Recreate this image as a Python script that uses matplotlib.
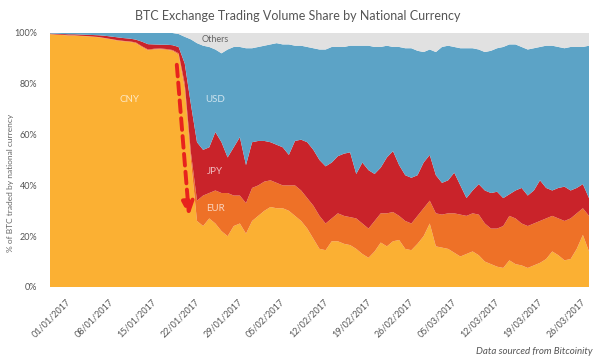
import numpy as np
import pandas as pd
import matplotlib
matplotlib.use("Agg")
import matplotlib.pyplot as plt
import matplotlib.transforms as mtransforms

plt.rcParams['font.family'] = ['Lato', 'DejaVu Sans']

# daily share (%) by currency, 01/01/2017 - 30/03/2017
dates = pd.date_range('2017-01-01', '2017-03-30', freq='D')

cny = [99.5, 99.3, 99.2, 99.0, 99.0, 98.8, 98.7, 98.5, 98.3, 97.9,
       97.5, 97.0, 96.7, 96.5, 96.0, 94.5, 93.2, 93.5, 93.6, 93.4,
       93.0, 91.5, 78.0, 50.0, 26, 24, 27, 25, 22, 20,
       24, 25, 21, 26, 28, 30, 31.5, 31, 31, 30,
       28, 26, 23, 19, 15, 14.5, 18, 18, 17, 16.5,
       15, 13, 11.5, 14, 17.5, 16, 18, 18.5, 15, 14.5,
       17, 20, 25, 16, 15.5, 15, 13.5, 12, 13, 14,
       12.5, 10, 9, 8, 7.5, 10.5, 9, 8.5, 7.5, 8.5,
       9.5, 11, 14, 12.5, 10.5, 11, 15, 20.5, 14]
eur = [0.1, 0.1, 0.1, 0.1, 0.1, 0.1, 0.1, 0.1, 0.1, 0.1,
       0.1, 0.2, 0.2, 0.2, 0.3, 0.3, 0.3, 0.3, 0.3, 0.3,
       0.3, 0.5, 2.0, 3.0, 8, 12, 10, 13, 15, 17,
       12, 11, 12, 13, 12, 11.5, 10.5, 10, 9, 10,
       12, 12, 12, 13, 13, 10.5, 9, 11, 11, 11,
       12, 12, 11.5, 12, 11.5, 13, 11.5, 9.5, 11, 10.5,
       11, 11, 9, 13, 13, 14, 15.5, 16.5, 15, 15,
       16, 15, 14, 15, 16.5, 17.5, 18, 16.5, 16.5, 16.5,
       16.5, 16, 14, 14.5, 15.5, 16, 14, 10.5, 14]
jpy = [0.2, 0.3, 0.3, 0.4, 0.4, 0.5, 0.5, 0.6, 0.7, 0.9,
       1.0, 1.1, 1.1, 1.1, 1.1, 1.8, 2.1, 1.7, 1.5, 1.7,
       1.9, 2.5, 8.0, 19.0, 23, 18, 18, 23, 20, 14,
       19, 23, 15, 18, 17.5, 16, 15, 15, 15, 12,
       17.5, 20, 22, 22, 22, 22.5, 22, 22.5, 24.5, 25.5,
       17.5, 24, 23, 18.5, 18, 22, 24, 20, 18, 18,
       16, 18, 18, 15, 12.5, 13, 16, 11.5, 7, 9,
       12, 13, 14, 14.5, 11, 8.5, 11, 14, 12, 13,
       16, 12, 10, 12, 13.5, 11, 10, 9.5, 7]
usd = [0.2, 0.3, 0.4, 0.5, 0.5, 0.6, 0.7, 0.8, 0.9, 1.1,
       1.4, 1.7, 2.0, 2.2, 2.6, 3.4, 4.4, 4.5, 4.6, 4.6,
       4.8, 5.1, 10.5, 25.5, 39, 41, 39.5, 32.5, 35, 42.5,
       39.5, 35.5, 46, 37, 37, 37.5, 38.5, 40, 40.5, 43.5,
       37.5, 37, 37.5, 40, 43.5, 46, 45.5, 43, 42, 42,
       50.5, 46, 49, 50, 47.5, 44, 41, 46.5, 50, 51,
       49, 43.5, 41.5, 48.5, 53.5, 53, 49.5, 54, 59, 56,
       53, 54.5, 56, 56.5, 59.5, 59, 57.5, 55.5, 57.5, 56,
       52.5, 56, 57, 55.5, 54.5, 56.5, 55.5, 54, 60]
others = [0, 0, 0, 0, 0, 0, 0, 0, 0, 0,
          0, 0, 0, 0, 0, 0, 0, 0, 0, 0,
          0, 0.4, 1.5, 2.5, 4, 5, 5.5, 6.5, 8, 6.5,
          5.5, 5.5, 6, 6, 5.5, 5, 4.5, 4, 4.5, 4.5,
          5, 5, 5.5, 6, 6.5, 6.5, 5.5, 5.5, 5.5, 5,
          5, 5, 5, 5.5, 5.5, 5, 5.5, 5.5, 6, 6,
          7, 7.5, 6.5, 7.5, 5.5, 5, 5.5, 6, 6, 6,
          6.5, 7.5, 7, 6, 5.5, 4.5, 4.5, 5.5, 6.5, 6,
          5.5, 5, 5, 5.5, 6, 5.5, 5.5, 5.5, 5.5]

names = ['CNY', 'EUR', 'JPY', 'USD', 'Others']
colors = ['#fbb033', '#ee7127', '#c9232a', '#5ca3c6', '#e1e1e1']

fig = plt.figure(figsize=(6, 3.59), dpi=100)
ax = fig.add_axes([50/600, 1 - 287/359, 539/600, 254/359])

ax.stackplot(dates, cny, eur, jpy, usd, others, colors=colors, labels=names, lw=0)

ax.set_xlim(dates[0], dates[-1])
ax.set_ylim(0, 100)

# weekly date labels, drawn as plain text so they can sit right of the tick
ticks = dates[::7]
ax.set_xticks(ticks)
ax.set_xticklabels([])
off = ax.get_xaxis_transform() + mtransforms.ScaledTranslation(0.16, -0.10, fig.dpi_scale_trans)
for d in ticks:
    ax.text(d, 0, d.strftime('%d/%m/%Y'), transform=off, rotation=45,
            rotation_mode='anchor', ha='right', va='top',
            fontsize=6.5, color='#555555')

ax.set_yticks(np.arange(0, 101, 20))
ax.set_yticklabels([f'{v}%' for v in range(0, 101, 20)], fontsize=6.5, color='#555555')
ax.tick_params(length=0)
ax.tick_params(axis='y', pad=9)
for s in ax.spines.values():
    s.set_visible(False)

# labels inside areas
lab_col = (1, 1, 1, 0.7)
ax.text(dates[13], 74, 'CNY', color=lab_col, fontsize=7, ha='center', va='center')
ax.text(dates[27], 74, 'USD', color=lab_col, fontsize=7, ha='center', va='center')
ax.text(dates[27], 45.5, 'JPY', color=lab_col, fontsize=7, ha='center', va='center')
ax.text(dates[27], 31, 'EUR', color=lab_col, fontsize=7, ha='center', va='center')
ax.text(dates[27], 97.5, 'Others', color='#666666', fontsize=6.5, ha='center', va='center')

# red dashed arrow for the CNY drop
x0 = dates[0] + pd.Timedelta(days=20.7)
x1 = dates[0] + pd.Timedelta(days=22.7)
ax.annotate('', xy=(x1, 28), xytext=(x0, 87.5),
            arrowprops=dict(arrowstyle='-|>,head_length=0.8,head_width=0.35',
                            color='#e8231d', lw=2.8, linestyle=(0, (3, 1.6)),
                            shrinkA=0, shrinkB=0))

fig.text(0.497, 0.956, 'BTC Exchange Trading Volume Share by National Currency',
         ha='center', va='center', fontsize=9, color='#555555')
fig.text(0.017, 1 - 183/359, '% of BTC traded by national currency', rotation=90,
         ha='center', va='center', fontsize=6, color='#666666')
fig.text(0.988, 1 - 351/359, 'Data sourced from Bitcoinity', ha='right', va='center',
         fontsize=7, style='italic', color='#555555')

fig.savefig('out.png', dpi=100, facecolor='white')
